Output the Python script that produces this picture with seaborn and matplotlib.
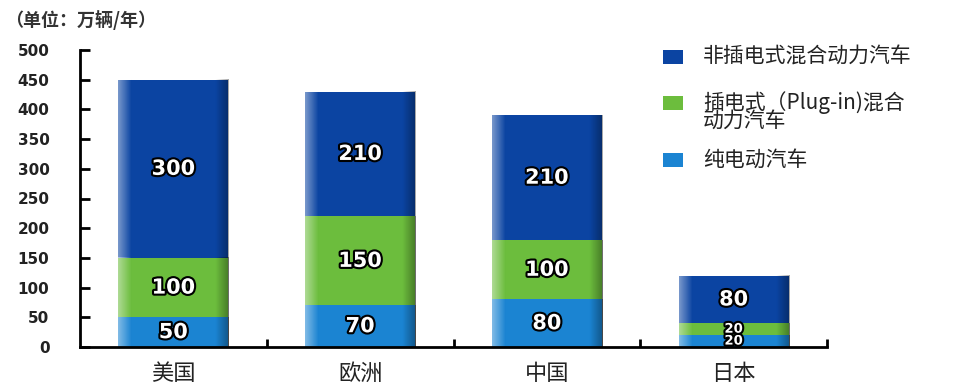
import matplotlib
matplotlib.use('Agg')
import matplotlib.pyplot as plt
import matplotlib.patheffects as pe
from matplotlib.patches import Rectangle
import seaborn as sns
import pandas as pd
import numpy as np

# ---- data ----
regions = ['美国', '欧洲', '中国', '日本']
bev = [50, 70, 80, 20]          # 纯电动汽车
phev = [100, 150, 100, 20]      # 插电式（Plug-in)混合动力汽车
hev = [300, 210, 210, 80]       # 非插电式混合动力汽车
series_names = ['非插电式混合动力汽车', '插电式（Plug-in)混合\n动力汽车', '纯电动汽车']
yticks = [0, 50, 100, 150, 200, 250, 300, 350, 400, 450, 500]
unit_label = '（单位：万辆/年）'

c_hev = '#0b44a2'
c_phev = '#6cbd3d'
c_bev = '#1b84d2'

sns.set_theme(style='white')
plt.rcParams['font.family'] = ['Noto Sans CJK SC', 'DejaVu Sans']

df = pd.DataFrame({'region': regions, 'bev': bev, 'phev': phev, 'hev': hev})
df['cum1'] = df['bev']
df['cum2'] = df['bev'] + df['phev']
df['cum3'] = df['cum2'] + df['hev']

fig = plt.figure(figsize=(9.75, 3.89), dpi=100)
W, H = 975, 389
ax = fig.add_axes([80 / W, 1 - 347 / H, (827 - 80) / W, (347 - 50) / H])

layers = [('cum3', c_hev), ('cum2', c_phev), ('cum1', c_bev)]
for k, (col, color) in enumerate(layers):
    n_before = len(ax.patches)
    sns.barplot(data=df, x='region', y=col, color=color, saturation=1,
                width=0.59, errorbar=None, ax=ax, edgecolor='none', linewidth=0)
    new = ax.patches[n_before:]
    for p in new:
        p.set_zorder(1 + 2 * k)
        # subtle 3D-like horizontal shading over each bar
        x0, y0, w, h = p.get_x(), p.get_y(), p.get_width(), p.get_height()
        t = np.linspace(0, 1, 200)
        rgba = np.zeros((1, 200, 4))
        light = np.clip(1 - t / 0.12, 0, 1) * 0.45
        dark = np.clip((t - 0.88) / 0.12, 0, 1) * 0.35
        rgba[0, :, :3] = np.where(light[:, None] > 0, 1.0, 0.0)
        rgba[0, :, 3] = light + dark
        ax.imshow(rgba, extent=[x0, x0 + w, y0, y0 + h], aspect='auto',
                  zorder=1.5 + 2 * k, interpolation='bilinear')

ax.set_xlim(-0.5, 3.5)
ax.set_ylim(0, 500)
ax.set_aspect('auto')
ax.set_xlabel('')
ax.set_ylabel('')
ax.set_yticks(yticks)
ax.set_yticklabels([str(v) for v in yticks], fontsize=11, fontweight='bold',
                   family='DejaVu Sans', color='#222222')
ax.tick_params(axis='y', direction='in', length=7, width=2, pad=22, color='black', left=True)
ax.set_xticks(range(len(regions)))
ax.set_xticklabels(regions, fontsize=16, color='#222222')
ax.tick_params(axis='x', which='major', length=0, pad=11)
ax.set_xticks([i + 0.5 for i in range(len(regions))], minor=True)
ax.tick_params(axis='x', which='minor', direction='in', length=6, width=2, color='black', bottom=True)
for s in ['top', 'right']:
    ax.spines[s].set_visible(False)
for s in ['left', 'bottom']:
    ax.spines[s].set_color('black')
    ax.spines[s].set_linewidth(2)
    ax.spines[s].set_zorder(10)
ax.grid(False)

# value labels
stroke = [pe.withStroke(linewidth=3, foreground='black')]
for i in range(len(regions)):
    bottoms = [0, bev[i], bev[i] + phev[i]]
    for val, b in zip([bev[i], phev[i], hev[i]], bottoms):
        fs = 15 if val >= 40 else 9.5
        ax.text(i, b + val / 2, str(val), ha='center', va='center', color='white',
                fontsize=fs, fontweight='bold', family='DejaVu Sans',
                path_effects=stroke, zorder=12)

# unit label
fig.text(5 / W, 1 - 20 / H, unit_label, fontsize=13, fontweight='bold',
         color='#333333', va='center', ha='left')

# legend
leg_y = [57, 103, 160]
text_y = [57, 111, 160]
for name, color, hy, ty in zip(series_names, [c_hev, c_phev, c_bev], leg_y, text_y):
    fig.patches.append(Rectangle((663 / W, 1 - (hy + 7) / H), 20 / W, 14 / H,
                                 transform=fig.transFigure, facecolor=color,
                                 edgecolor='none'))
    fig.text(703 / W, 1 - ty / H, name, fontsize=15, color='#222222',
             va='center', ha='left', linespacing=0.75)

fig.savefig('out.png', dpi=100)
